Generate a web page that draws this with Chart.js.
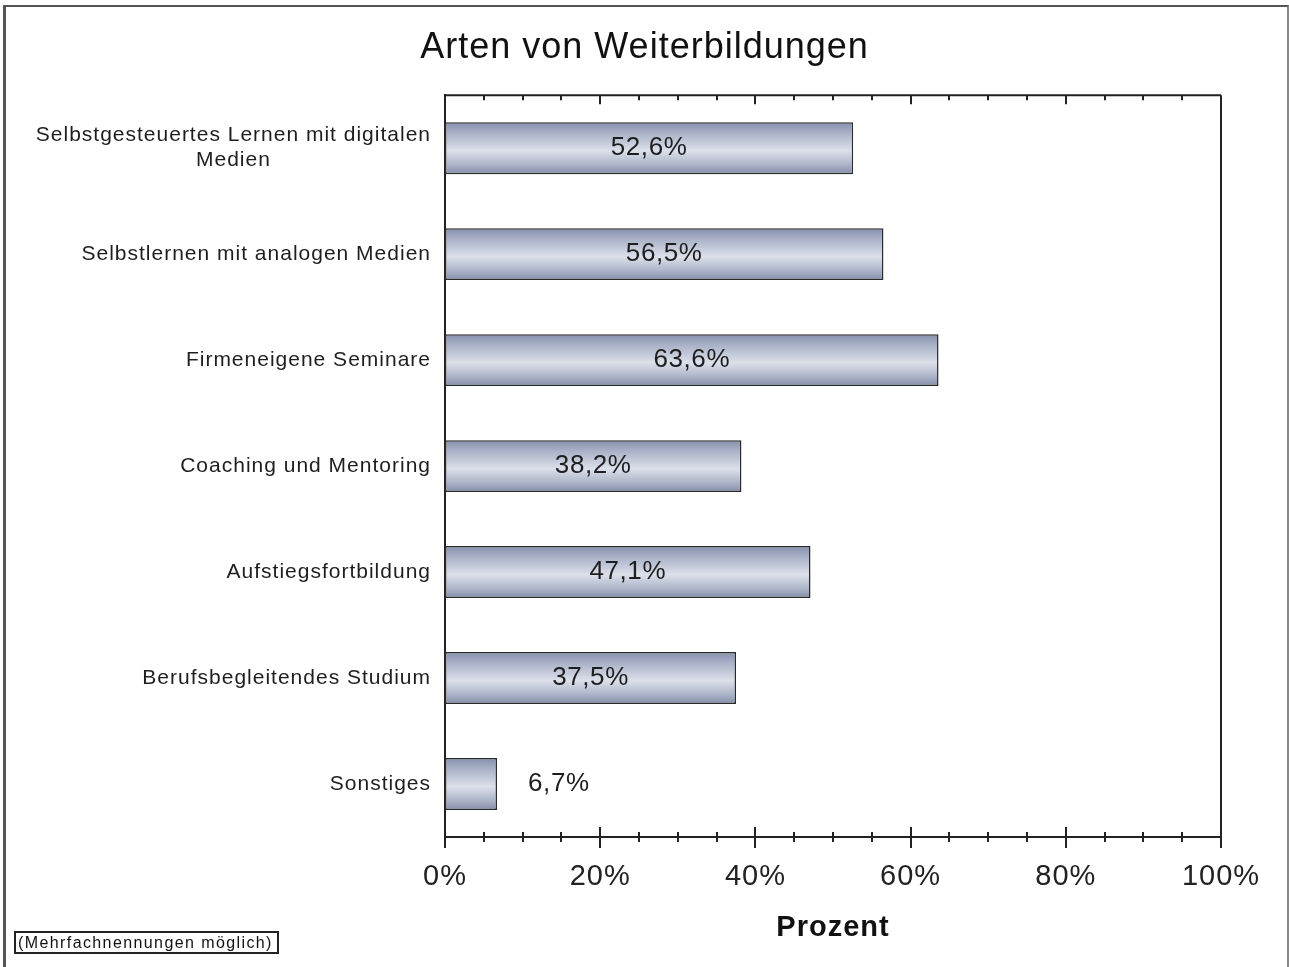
<!DOCTYPE html>
<html lang="de">
<head>
<meta charset="utf-8">
<title>Arten von Weiterbildungen</title>
<script src="https://cdn.jsdelivr.net/npm/chart.js@4/dist/chart.umd.min.js"></script>
<style>
    body { margin: 0; background: #fff; }
    #wrap { position: relative; width: 1289px; height: 967px; overflow: hidden; }
    #rahmen {
        position: absolute; left: 3px; top: 5px; width: 1281px; height: 990px;
        border-left: 3px solid #555; border-top: 2px solid #555; border-right: 2px solid #888;
    }
    #hinweis {
        position: absolute; left: 14px; top: 931px; width: 259px; height: 19px;
        border: 2px solid #222; font: 16px 'Liberation Sans', Arial, sans-serif;
        letter-spacing: 1.4px; line-height: 19px; padding-left: 2px; color: #111;
        white-space: nowrap; overflow: hidden;
    }
    canvas { position: absolute; left: 0; top: 0; }
</style>
</head>
<body>
<div id="wrap">
    <canvas id="barWeiter" width="1289" height="967"></canvas>
    <div id="rahmen"></div>
    <div id="hinweis">(Mehrfachnennungen möglich)</div>
</div>
<script>
// Daten
const kategorien = [
    ['Selbstgesteuertes Lernen mit digitalen', 'Medien'],
    'Selbstlernen mit analogen Medien',
    'Firmeneigene Seminare',
    'Coaching und Mentoring',
    'Aufstiegsfortbildung',
    'Berufsbegleitendes Studium',
    'Sonstiges'
];
const anteile = [52.6, 56.5, 63.6, 38.2, 47.1, 37.5, 6.7];
const prozentTicks = [0, 20, 40, 60, 80, 100];

const schrift = "'Liberation Sans', Arial, sans-serif";
const balkenAnteil = 0.49;

// metallischer Verlauf pro Balken
function balkenVerlauf(context) {
    const chart = context.chart;
    const yScale = chart.scales.y;
    if (!chart.chartArea || !yScale) return '#b3bacc';
    const mitte = yScale.getPixelForValue(context.dataIndex);
    const halb = yScale.height / kategorien.length * balkenAnteil / 2;
    const g = chart.ctx.createLinearGradient(0, mitte - halb, 0, mitte + halb);
    g.addColorStop(0, '#8690ad');
    g.addColorStop(0.2, '#a7b0c6');
    g.addColorStop(0.55, '#dce0ea');
    g.addColorStop(0.8, '#afb7cb');
    g.addColorStop(1, '#838da9');
    return g;
}

// Zeichenabstand setzen
const abstandPlugin = {
    id: 'abstand',
    beforeDraw(chart) {
        chart.ctx.letterSpacing = '1px';
    }
};

// Rahmen und Teilstriche oben/unten
const rahmenPlugin = {
    id: 'rahmen',
    afterDraw(chart) {
        const {ctx, chartArea: a, scales: {x}} = chart;
        ctx.save();
        ctx.strokeStyle = '#222';
        ctx.lineWidth = 2;
        ctx.beginPath();
        ctx.moveTo(a.left, a.top);
        ctx.lineTo(a.right, a.top);
        ctx.moveTo(a.right, a.top);
        ctx.lineTo(a.right, a.bottom);
        for (let v = 0; v <= 100; v += 5) {
            const px = Math.round(x.getPixelForValue(v));
            const gross = v % 20 === 0;
            ctx.moveTo(px, a.top);
            ctx.lineTo(px, a.top + (gross ? 9 : 5));
            ctx.moveTo(px, a.bottom - (gross ? 10 : 5));
            ctx.lineTo(px, a.bottom + (gross ? 11 : 5));
        }
        ctx.stroke();
        ctx.restore();
    }
};

// Kategorien links und Werte an den Balken
const beschriftungPlugin = {
    id: 'beschriftung',
    afterDatasetsDraw(chart) {
        const {ctx, scales: {y}} = chart;
        ctx.save();
        ctx.fillStyle = '#1e1e1e';
        ctx.textBaseline = 'middle';

        ctx.font = '21px ' + schrift;
        ctx.letterSpacing = '1px';
        kategorien.forEach((label, i) => {
            const cy = y.getPixelForValue(i);
            const rechts = 431;
            if (Array.isArray(label)) {
                const breite = Math.max(...label.map(t => ctx.measureText(t).width));
                ctx.textAlign = 'center';
                label.forEach((t, j) => {
                    ctx.fillText(t, rechts - breite / 2, cy + (j - (label.length - 1) / 2) * 25);
                });
            } else {
                ctx.textAlign = 'right';
                ctx.fillText(label, rechts, cy);
            }
        });

        ctx.font = '26px ' + schrift;
        ctx.letterSpacing = '0.6px';
        const meta = chart.getDatasetMeta(0);
        meta.data.forEach((bar, i) => {
            const text = anteile[i].toFixed(1).replace('.', ',') + '%';
            const w = ctx.measureText(text).width;
            if (bar.x - bar.base > w + 20) {
                ctx.textAlign = 'center';
                ctx.fillText(text, (bar.x + bar.base) / 2, bar.y);
            } else {
                ctx.textAlign = 'left';
                ctx.fillText(text, bar.x + 31, bar.y);
            }
        });
        ctx.restore();
    }
};

const dadosWeiter = {
    labels: kategorien,
    datasets: [{
        label: 'Arten von Weiterbildungen',
        data: anteile,
        backgroundColor: balkenVerlauf,
        borderColor: '#2a2a2a',
        borderWidth: 1.5,
        borderSkipped: false,
        barPercentage: balkenAnteil,
        categoryPercentage: 1
    }]
};

const configWeiter = {
    type: 'bar',
    data: dadosWeiter,
    options: {
        indexAxis: 'y',
        responsive: false,
        animation: false,
        events: [],
        layout: {
            padding: 0
        },
        scales: {
            x: {
                min: 0,
                max: 100,
                afterBuildTicks: (scale) => {
                    scale.ticks = prozentTicks.map(v => ({ value: v }));
                },
                afterFit: (scale) => { scale.height = 130; },
                grid: { display: false, drawTicks: false },
                border: { display: true, color: '#222', width: 2 },
                ticks: {
                    padding: 23,
                    color: '#222',
                    maxRotation: 0,
                    font: { size: 29, family: schrift },
                    callback: (v) => v + '%'
                },
                title: {
                    display: true,
                    text: 'Prozent',
                    color: '#111',
                    padding: { top: 0, bottom: 22 },
                    font: { size: 29, weight: 'bold', family: schrift }
                }
            },
            y: {
                offset: true,
                afterFit: (scale) => { scale.width = 445; },
                grid: { display: false, drawTicks: false },
                border: { display: true, color: '#222', width: 2 },
                ticks: { display: false }
            },
            // leerer Rand rechts
            yRand: {
                position: 'right',
                afterFit: (scale) => { scale.width = 68; },
                grid: { display: false, drawTicks: false },
                border: { display: false },
                ticks: { display: false }
            }
        },
        plugins: {
            legend: { display: false },
            tooltip: { enabled: false },
            title: {
                display: true,
                text: 'Arten von Weiterbildungen',
                color: '#111',
                padding: { top: 26, bottom: 26 },
                font: {
                    size: 36,
                    weight: 'normal',
                    family: schrift,
                    lineHeight: 1.2
                }
            }
        }
    },
    plugins: [abstandPlugin, rahmenPlugin, beschriftungPlugin]
};

new Chart(document.getElementById('barWeiter').getContext('2d'), configWeiter);
</script>
</body>
</html>
